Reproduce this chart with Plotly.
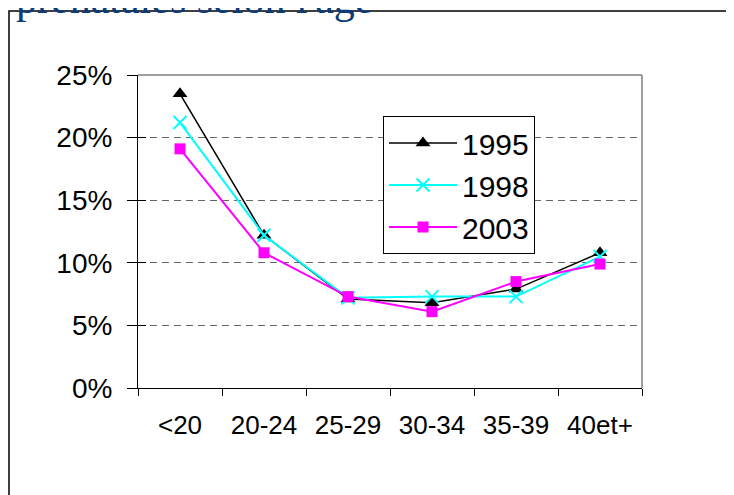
import plotly.graph_objects as go

categories = ["<20", "20-24", "25-29", "30-34", "35-39", "40et+"]
y1995 = [0.235, 0.122, 0.071, 0.068, 0.079, 0.108]
y1998 = [0.212, 0.122, 0.072, 0.073, 0.073, 0.105]
y2003 = [0.191, 0.108, 0.073, 0.061, 0.085, 0.099]
ytick_vals = [0, 0.05, 0.10, 0.15, 0.20, 0.25]
ytick_text = ["0%", "5%", "10%", "15%", "20%", "25%"]
title_text = "prénatales selon l'âge"

OFF = 8  # default body margin of the page
W, H = 734 - OFF, 495 - OFF
L, R, T, B = 138 - OFF, 642 - OFF, 75 - OFF, 388 - OFF

def px_x(p):
    return (p - OFF - L) / (R - L)

def px_y(p):
    return (B - (p - OFF)) / (B - T)

fig = go.Figure()
fig.add_trace(go.Scatter(x=categories, y=y1995, name="1995", mode="lines+markers",
                         line=dict(color="black", width=1.5),
                         marker=dict(symbol="triangle-up", size=13, color="black")))
fig.add_trace(go.Scatter(x=categories, y=y1998, name="1998", mode="lines+markers",
                         line=dict(color="#00FFFF", width=2),
                         marker=dict(symbol="x-thin", size=13, color="#00FFFF",
                                     line=dict(color="#00FFFF", width=2))))
fig.add_trace(go.Scatter(x=categories, y=y2003, name="2003", mode="lines+markers",
                         line=dict(color="#FF00FF", width=2),
                         marker=dict(symbol="square", size=11, color="#FF00FF")))
# invisible helper trace so the inner tick axis is drawn
fig.add_trace(go.Scatter(x=[categories[0]], y=[0], yaxis="y2", mode="markers",
                         marker=dict(opacity=0), showlegend=False, hoverinfo="skip"))

font = "Liberation Sans, Arial, sans-serif"
fig.update_layout(
    width=W, height=H,
    margin=dict(l=L, r=W - R, t=T, b=H - B),
    paper_bgcolor="white", plot_bgcolor="white",
    showlegend=True,
    legend=dict(x=px_x(383), y=px_y(116), xanchor="left", yanchor="top",
                bordercolor="black", borderwidth=1, bgcolor="white",
                font=dict(family=font, size=30, color="black"),
                itemwidth=68, tracegroupgap=0),
    xaxis=dict(type="category", range=[-0.5, 5.5], showgrid=False,
               showline=True, linecolor="black", linewidth=1,
               ticks="outside", tickson="boundaries", ticklen=7, tickcolor="black",
               tickfont=dict(family=font, size=26, color="black"), ticklabelstandoff=14,
               zeroline=False, fixedrange=True),
    yaxis=dict(range=[0, 0.25], tickvals=ytick_vals, ticktext=ytick_text,
               showgrid=True, gridcolor="#666666", griddash="7px,5px", gridwidth=1,
               showline=True, linecolor="black", linewidth=1,
               ticks="outside", ticklen=10, tickcolor="black",
               tickfont=dict(family=font, size=28, color="black"), ticklabelstandoff=9,
               zeroline=False, fixedrange=True),
    yaxis2=dict(range=[0, 0.25], tickvals=ytick_vals, overlaying="y", side="left",
                showgrid=False, showline=False, showticklabels=False,
                ticks="inside", ticklen=8, tickcolor="black",
                zeroline=False, fixedrange=True),
    shapes=[
        dict(type="line", xref="paper", yref="paper", x0=0, x1=1, y0=1, y1=1,
             line=dict(color="#808080", width=1.5)),
        dict(type="line", xref="paper", yref="paper", x0=1, x1=1, y0=0, y1=1,
             line=dict(color="#808080", width=1.5)),
        dict(type="rect", xref="paper", yref="paper",
             x0=px_x(9), x1=px_x(760), y0=px_y(520), y1=px_y(11),
             line=dict(color="black", width=1.5), fillcolor="rgba(0,0,0,0)"),
    ],
    annotations=[
        dict(text=title_text, xref="paper", yref="paper", x=px_x(14), y=px_y(24),
             xanchor="left", yanchor="bottom", showarrow=False,
             font=dict(family="Liberation Serif, Times New Roman, serif", size=42, color="#0B3B78")),
    ],
)

fig.write_html("out.html")
